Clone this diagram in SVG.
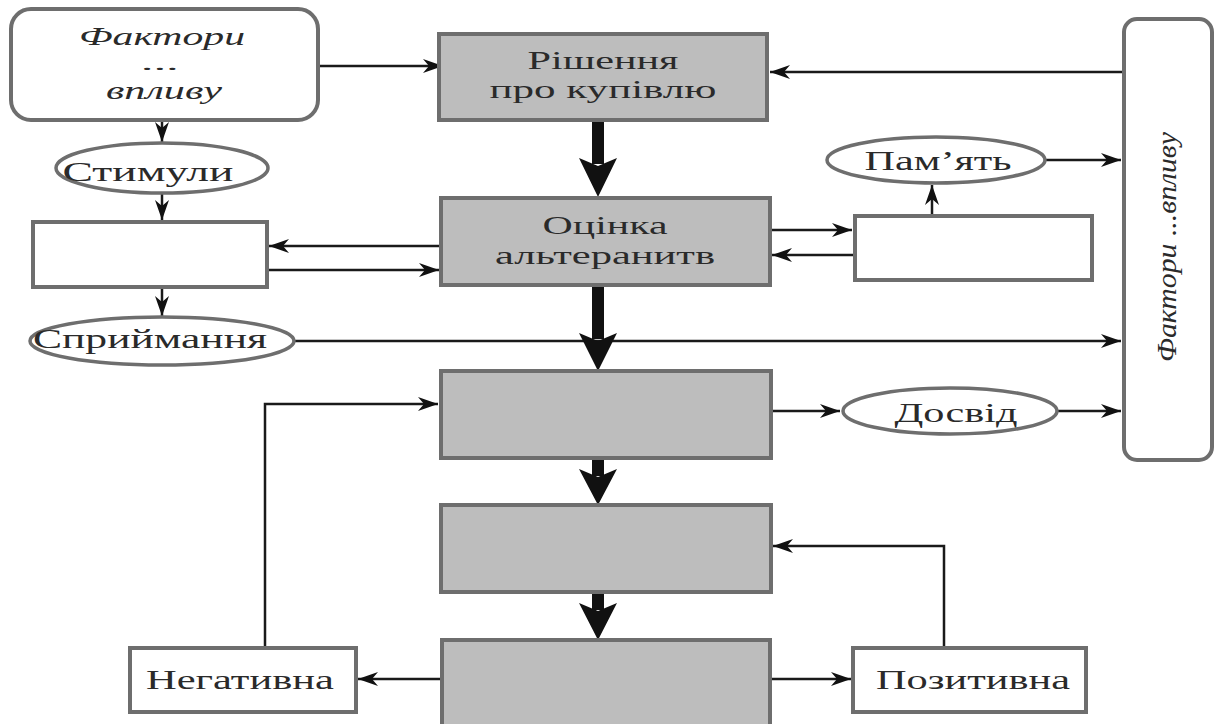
<svg xmlns="http://www.w3.org/2000/svg" width="1217" height="724" viewBox="0 0 1217 724">
<style>
.gray{fill:#bdbdbd;stroke:#6e6e6e;stroke-width:4}
.white{fill:#fff;stroke:#6e6e6e;stroke-width:4}
.ell{fill:#fff;stroke:#6e6e6e;stroke-width:3.5}
.t{font-family:"Liberation Serif","DejaVu Serif",serif;font-size:28px;fill:#2a2a2a;text-anchor:middle}
.s{font-size:25px}
.it{font-style:italic}
.ln{fill:none;stroke:#1a1a1a;stroke-width:2.5;marker-end:url(#ah)}
.thick{fill:#111}
</style>
<defs>
<marker id="ah" markerUnits="userSpaceOnUse" markerWidth="22" markerHeight="16" refX="20" refY="7" orient="auto">
<path d="M0,0 L20,7 L0,14 L6,7 z" fill="#111"/>
</marker>
</defs>
<rect width="1217" height="724" fill="#fff"/>
<g id="connectors">
<line class="ln" x1="318" y1="66" x2="443" y2="66"/>
<line class="ln" x1="1123" y1="72" x2="770" y2="72"/>
<line class="ln" x1="162" y1="120" x2="162" y2="142"/>
<line class="ln" x1="162" y1="193" x2="162" y2="220"/>
<line class="ln" x1="162" y1="287" x2="162" y2="316"/>
<line class="ln" x1="441" y1="246" x2="269" y2="246"/>
<line class="ln" x1="267" y1="270" x2="439" y2="270"/>
<line class="ln" x1="770" y1="230" x2="852" y2="230"/>
<line class="ln" x1="854" y1="255" x2="772" y2="255"/>
<line class="ln" x1="932" y1="215" x2="932" y2="185"/>
<line class="ln" x1="1045" y1="160" x2="1121" y2="160"/>
<line class="ln" x1="295" y1="341" x2="1121" y2="341"/>
<line class="ln" x1="771" y1="411" x2="840" y2="411"/>
<line class="ln" x1="1057" y1="411" x2="1121" y2="411"/>
<polyline class="ln" points="265,647 265,404 438,404"/>
<polyline class="ln" points="944,647 944,546 773,546"/>
<line class="ln" x1="442" y1="679" x2="358" y2="679"/>
<line class="ln" x1="770" y1="679" x2="851" y2="679"/>
<rect class="thick" x="592" y="120" width="12" height="44"/>
<path class="thick" d="M579,158 L598,166 L617,158 L598,197 z"/>
<rect class="thick" x="592" y="285" width="12" height="54"/>
<path class="thick" d="M579,333 L598,341 L617,333 L598,371 z"/>
<rect class="thick" x="592" y="458" width="12" height="18"/>
<path class="thick" d="M579,469 L598,477 L617,469 L598,505 z"/>
<rect class="thick" x="592" y="592" width="12" height="18"/>
<path class="thick" d="M579,603 L598,611 L617,603 L598,640 z"/>
</g>
<g id="factors-left">
<rect class="white" x="11" y="9" width="307" height="111" rx="20"/>
<text class="t it s" x="162" y="45" textLength="166" lengthAdjust="spacingAndGlyphs">Фактори</text>
<text class="t it" style="font-size:18px" x="161" y="70" textLength="38" lengthAdjust="spacingAndGlyphs">...</text>
<text class="t it s" x="164" y="99" textLength="116" lengthAdjust="spacingAndGlyphs">впливу</text>
</g>
<g id="decision">
<rect class="gray" x="439" y="34" width="328" height="86"/>
<text class="t s" x="603" y="69" textLength="151" lengthAdjust="spacingAndGlyphs">Рішення</text>
<text class="t s" x="603" y="98" textLength="227" lengthAdjust="spacingAndGlyphs">про купівлю</text>
</g>
<g id="evaluation">
<rect class="gray" x="441" y="198" width="329" height="87"/>
<text class="t s" x="605" y="234" textLength="125" lengthAdjust="spacingAndGlyphs">Оцінка</text>
<text class="t s" x="605" y="264" textLength="220" lengthAdjust="spacingAndGlyphs">альтеранитв</text>
</g>
<g id="box3"><rect class="gray" x="441" y="371" width="330" height="87"/></g>
<g id="box4"><rect class="gray" x="441" y="505" width="330" height="87"/></g>
<g id="box5"><rect class="gray" x="442" y="640" width="328" height="92"/></g>
<g id="stimuli">
<ellipse class="ell" cx="162" cy="168" rx="106" ry="25"/>
<text class="t" x="148" y="181" textLength="171" lengthAdjust="spacingAndGlyphs">Стимули</text>
</g>
<g id="left-box"><rect class="white" x="33" y="222" width="234" height="65"/></g>
<g id="perception">
<ellipse class="ell" cx="162" cy="341" rx="132" ry="24"/>
<text class="t" x="150" y="348" textLength="234" lengthAdjust="spacingAndGlyphs">Сприймання</text>
</g>
<g id="memory">
<ellipse class="ell" cx="936" cy="160" rx="109" ry="23"/>
<text class="t" x="938" y="170" textLength="147" lengthAdjust="spacingAndGlyphs">Пам’ять</text>
</g>
<g id="memory-box"><rect class="white" x="855" y="216" width="237" height="64"/></g>
<g id="experience">
<ellipse class="ell" cx="950" cy="411" rx="107" ry="23"/>
<text class="t" x="956" y="422" textLength="123" lengthAdjust="spacingAndGlyphs">Досвід</text>
</g>
<g id="factors-right">
<rect class="white" x="1124" y="19" width="88" height="441" rx="13"/>
<text class="t it" transform="translate(1176,247) rotate(-90)" x="0" y="0" textLength="230" lengthAdjust="spacingAndGlyphs">Фактори ...впливу</text>
</g>
<g id="negative">
<rect class="white" x="130" y="648" width="226" height="64"/>
<text class="t" x="240" y="689" textLength="188" lengthAdjust="spacingAndGlyphs">Негативна</text>
</g>
<g id="positive">
<rect class="white" x="853" y="648" width="233" height="64"/>
<text class="t" x="973" y="689" textLength="194" lengthAdjust="spacingAndGlyphs">Позитивна</text>
</g>
</svg>
